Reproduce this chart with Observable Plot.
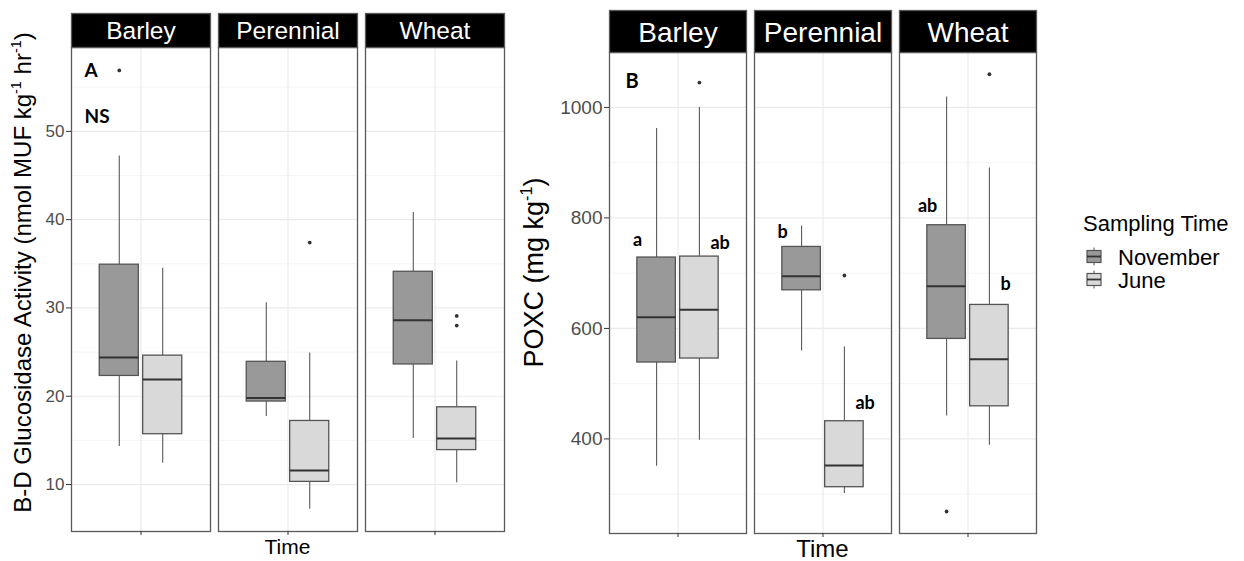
<!DOCTYPE html>
<html><head><meta charset="utf-8">
<script src="https://cdn.jsdelivr.net/npm/d3@7"></script>
<script src="https://cdn.jsdelivr.net/npm/@observablehq/plot@0.6"></script>
<style>
body{margin:0;background:#fff;}
#wrap{position:relative;width:1244px;height:561px;overflow:hidden;font-family:"Liberation Sans",Arial,sans-serif;}
#wrap svg{position:absolute;top:0;}
</style></head><body><div id="wrap"></div>
<script>
const crops = ["Barley", "Perennial", "Wheat"];
const times = ["November", "June"];
const fillColors = ["#999999", "#d9d9d9"];

// Panel A: B-D Glucosidase activity (Barley, Perennial, Wheat)
const glucNovLow    = [14.3, 17.7, 15.2];
const glucNovQ1     = [22.3, 19.4, 23.6];
const glucNovMedian = [24.4, 19.8, 28.6];
const glucNovQ3     = [34.9, 23.9, 34.1];
const glucNovHigh   = [47.2, 30.6, 40.8];
const glucJunLow    = [12.4, 7.2, 10.2];
const glucJunQ1     = [15.7, 10.3, 13.9];
const glucJunMedian = [21.9, 11.6, 15.2];
const glucJunQ3     = [24.6, 17.2, 18.75];
const glucJunHigh   = [34.5, 24.9, 24.0];
const glucOutCrop  = ["Barley", "Perennial", "Wheat", "Wheat"];
const glucOutTime  = ["November", "June", "June", "June"];
const glucOutValue = [56.9, 37.4, 29.1, 28.0];
const glucTicks = [10, 20, 30, 40, 50];
const glucMinor = [15, 25, 35, 45, 55];
const glucDomain = [4.68, 59.5];
const glucTags = ["A", "NS"];
const glucTagY = [56.9, 51.6];

// Panel B: POXC (Barley, Perennial, Wheat)
const poxNovLow    = [350.6, 559, 441.6];
const poxNovQ1     = [538.3, 669, 581];
const poxNovMedian = [620.3, 694.5, 676.4];
const poxNovQ3     = [728.3, 747.5, 786.8];
const poxNovHigh   = [961.8, 785.5, 1019];
const poxJunLow    = [397.6, 301, 388.6];
const poxJunQ1     = [545.5, 312.6, 459];
const poxJunMedian = [634, 351.8, 544];
const poxJunQ3     = [730, 432, 642.5];
const poxJunHigh   = [1000, 566.5, 890.5];
const poxOutCrop  = ["Barley", "Perennial", "Wheat", "Wheat"];
const poxOutTime  = ["June", "June", "November", "June"];
const poxOutValue = [1045, 695.8, 268.6, 1060];
const poxTicks = [400, 600, 800, 1000];
const poxMinor = [300, 500, 700, 900];
const poxDomain = [228.8, 1099.4];
const poxTags = ["B"];
const poxTagY = [1047];
const poxLetterText = ["a", "ab", "b", "ab", "ab", "b"];
const poxLetterCrop = ["Barley", "Barley", "Perennial", "Perennial", "Wheat", "Wheat"];
const poxLetterTime = ["November", "June", "November", "June", "November", "June"];
const poxLetterY    = [760, 754, 774, 465, 822, 680];

// ggplot-style dodge of two boxes around x = 1
const dodge = 0.375, boxW = dodge * 0.9;
const xCenter = t => 1 + (times.indexOf(t) - 0.5) * dodge;

function buildBoxes(stats) {
  const out = [];
  stats.forEach((s, j) => {
    const [lo, q1, md, q3, hi] = s;
    crops.forEach((c, i) => {
      const xc = xCenter(times[j]);
      out.push({crop: c, time: times[j], xc, x1: xc - boxW / 2, x2: xc + boxW / 2,
                lo: lo[i], q1: q1[i], md: md[i], q3: q3[i], hi: hi[i]});
    });
  });
  return out;
}
function buildPoints(cropsArr, timesArr, values) {
  return values.map((v, i) => ({crop: cropsArr[i], time: timesArr[i], xc: xCenter(timesArr[i]), value: v}));
}

const glucBoxes = buildBoxes([
  [glucNovLow, glucNovQ1, glucNovMedian, glucNovQ3, glucNovHigh],
  [glucJunLow, glucJunQ1, glucJunMedian, glucJunQ3, glucJunHigh]]);
const poxBoxes = buildBoxes([
  [poxNovLow, poxNovQ1, poxNovMedian, poxNovQ3, poxNovHigh],
  [poxJunLow, poxJunQ1, poxJunMedian, poxJunQ3, poxJunHigh]]);
const glucOut = buildPoints(glucOutCrop, glucOutTime, glucOutValue);
const poxOut = buildPoints(poxOutCrop, poxOutTime, poxOutValue);
const poxLetters = poxLetterText.map((t, i) => ({crop: poxLetterCrop[i], time: poxLetterTime[i],
  xc: xCenter(poxLetterTime[i]), y: poxLetterY[i], text: t}));

const labelFont = "Lato, 'Open Sans', sans-serif";

function panel(o) {
  const panelH = 561 - o.mT - o.mB;
  const marks = [
    Plot.ruleY(o.minor, {stroke: "#f3f3f3", strokeWidth: 0.8}),
    Plot.ruleY(o.major, {stroke: "#ebebeb", strokeWidth: 1.2}),
    Plot.ruleX([1], {stroke: "#ebebeb", strokeWidth: 1.2}),
    Plot.ruleX(o.boxes, {fx: "crop", x: "xc", y1: "q3", y2: "hi", stroke: "#5a5a5a", strokeWidth: 1.1}),
    Plot.ruleX(o.boxes, {fx: "crop", x: "xc", y1: "lo", y2: "q1", stroke: "#5a5a5a", strokeWidth: 1.1}),
    Plot.rect(o.boxes, {fx: "crop", x1: "x1", x2: "x2", y1: "q1", y2: "q3", fill: "time", stroke: "#555", strokeWidth: 1.3}),
    Plot.ruleY(o.boxes, {fx: "crop", y: "md", x1: "x1", x2: "x2", stroke: "#333", strokeWidth: 2}),
    Plot.dot(o.outliers, {fx: "crop", x: "xc", y: "value", r: 1.9, fill: "#333", stroke: null}),
    Plot.frame({stroke: "#5a5a5a", strokeWidth: 1.3}),
    Plot.frame({fill: "black", stroke: "#5a5a5a", strokeWidth: 1.3, insetTop: -o.stripH, insetBottom: panelH}),
    Plot.text(crops, {fx: d => d, text: d => d, frameAnchor: "top", lineAnchor: "middle", dy: o.stripDy, fill: "white", fontSize: o.stripFont}),
    Plot.axisY(o.major, {tickSize: o.tickSize, tickPadding: o.tickPad, fontSize: o.tickFont, fill: "#4d4d4d", stroke: "#333", label: null, tickFormat: d => String(d)}),
    Plot.axisX([1], {tickSize: 4, tickFormat: () => "", label: null, stroke: "#333"}),
    Plot.text(o.tags, {fx: () => "Barley", x: () => 0.4, y: (d, i) => o.tagY[i], text: d => d, textAnchor: "start", dx: o.tagDx,
      fontWeight: "bold", fontSize: o.tagFont, fontFamily: labelFont, fill: "black"})
  ];
  if (o.letters) {
    marks.push(Plot.text(o.letters.filter(d => d.time === "November"), {fx: "crop", x: "xc", y: "y", text: "text",
      textAnchor: "middle", dx: -19, fontWeight: "bold", fontSize: o.letterFont, fontFamily: labelFont, fill: "black"}));
    marks.push(Plot.text(o.letters.filter(d => d.time === "June"), {fx: "crop", x: "xc", y: "y", text: "text",
      textAnchor: "start", dx: 11, fontWeight: "bold", fontSize: o.letterFont, fontFamily: labelFont, fill: "black"}));
  }
  return Plot.plot({
    width: o.width, height: 561, marginLeft: o.mL, marginRight: o.mR, marginTop: o.mT, marginBottom: o.mB,
    style: {fontFamily: "'Liberation Sans', Arial, sans-serif", background: "transparent", overflow: "visible"},
    fx: {domain: crops, axis: null, paddingInner: 0.054, paddingOuter: 0},
    x: {domain: [0.4, 1.6], axis: null},
    y: {domain: o.domain, axis: null},
    color: {domain: times, range: fillColors},
    marks
  });
}

const wrap = document.getElementById("wrap");

const chartA = panel({
  boxes: glucBoxes, outliers: glucOut, letters: null, tags: glucTags, tagY: glucTagY,
  domain: glucDomain, major: glucTicks, minor: glucMinor,
  width: 515, mL: 70, mR: 9, mT: 47, mB: 30,
  stripH: 34, stripFont: 24.5, stripDy: -16, tickFont: 17, tickSize: 5, tickPad: 2,
  tagFont: 19, tagDx: 13
});
chartA.style.left = "0px";
wrap.appendChild(chartA);

const chartB = panel({
  boxes: poxBoxes, outliers: poxOut, letters: poxLetters, tags: poxTags, tagY: poxTagY,
  domain: poxDomain, major: poxTicks, minor: poxMinor,
  width: 529, mL: 93, mR: 7, mT: 52, mB: 28,
  stripH: 42, stripFont: 28, stripDy: -19, tickFont: 19, tickSize: 5, tickPad: 2,
  tagFont: 20, tagDx: 16, letterFont: 18
});
chartB.style.left = "515px";
wrap.appendChild(chartB);

// Titles and legend overlay
const ns = "http://www.w3.org/2000/svg";
const ov = d3.select(wrap).append("svg").attr("xmlns", ns)
  .attr("width", 1244).attr("height", 561).style("left", "0px").style("pointer-events", "none")
  .style("font-family", "'Liberation Sans', Arial, sans-serif");

function supText(g, parts, size) {
  const t = g.append("text").attr("font-size", size).attr("fill", "black").attr("text-anchor", "middle");
  parts.forEach(p => {
    if (p.sup) t.append("tspan").attr("font-size", size * 0.6).attr("dy", -size * 0.4).text(p.t);
    else t.append("tspan").attr("dy", p.after ? size * 0.4 : 0).text(p.t);
  });
  return t;
}
supText(ov.append("g").attr("transform", "translate(31,272.5) rotate(-90)"), [
  {t: "B-D Glucosidase Activity (nmol MUF kg"}, {t: "-1", sup: true}, {t: " hr", after: true}, {t: "-1", sup: true}, {t: ")", after: true}
], 24);
supText(ov.append("g").attr("transform", "translate(543,272.5) rotate(-90)"), [
  {t: "POXC (mg kg"}, {t: "-1", sup: true}, {t: ")", after: true}
], 27);
ov.append("text").attr("x", 287.5).attr("y", 554).attr("text-anchor", "middle").attr("font-size", 21).text("Time");
ov.append("text").attr("x", 822.5).attr("y", 557).attr("text-anchor", "middle").attr("font-size", 24).text("Time");

// legend
ov.append("text").attr("x", 1083).attr("y", 231).attr("font-size", 22).text("Sampling Time");
times.forEach((t, i) => {
  const cy = 256.5 + i * 23;
  const g = ov.append("g");
  g.append("line").attr("x1", 1094).attr("x2", 1094).attr("y1", cy - 9).attr("y2", cy + 9).attr("stroke", "#555");
  g.append("rect").attr("x", 1087).attr("y", cy - 6).attr("width", 14).attr("height", 12)
    .attr("fill", fillColors[i]).attr("stroke", "#555").attr("stroke-width", 1.2);
  g.append("line").attr("x1", 1087).attr("x2", 1101).attr("y1", cy).attr("y2", cy).attr("stroke", "#333").attr("stroke-width", 1.8);
  ov.append("text").attr("x", 1118).attr("y", cy + 8.5).attr("font-size", 22).text(t);
});
</script></body></html>
